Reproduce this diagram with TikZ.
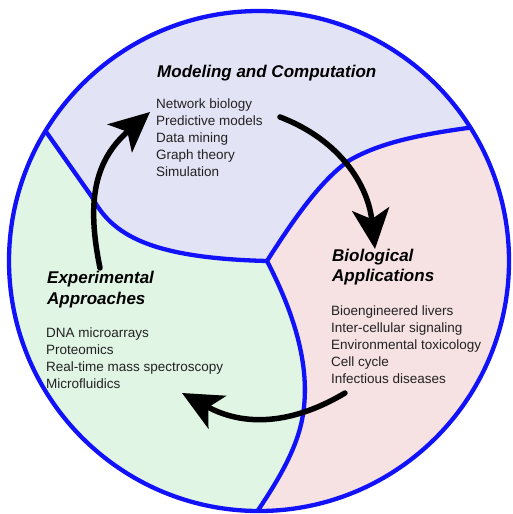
\documentclass[tikz,border=0pt]{standalone}
\usepackage{fontspec}
\setmainfont{Liberation Sans}
\usetikzlibrary{arrows.meta}
\definecolor{lav}{RGB}{227,227,246}
\definecolor{mint}{RGB}{224,245,228}
\definecolor{rose}{RGB}{246,225,227}
\definecolor{rim}{RGB}{18,18,250}
\definecolor{ink}{RGB}{34,34,34}
\tikzset{
  border/.style={draw=rim, line width=4.3pt, line cap=round, line join=round},
  cyclearrow/.style={draw=black, line width=5.5pt, line cap=round,
    -{Stealth[length=40pt,width=37pt,inset=10pt]}},
  heading/.style={anchor=base west, inner sep=0pt,
    font=\fontsize{17}{20}\selectfont\bfseries\itshape},
  item/.style={anchor=base west, inner sep=0pt, text=ink,
    font=\fontsize{13.5}{17}\selectfont},
}
\begin{document}
\begin{tikzpicture}[x=1pt,y=-1pt]
\useasboundingbox[fill=white] (0,0) rectangle (512,514);
\coordinate (O) at (259,261);
\coordinate (J) at (267,261);

% three sectors, clipped to the disc
\begin{scope}
  \clip (O) circle[radius=250pt];
  \fill[rose] (O) circle[radius=250pt];
  \fill[lav] (30,109) -- (92,197) .. controls (112,235) and (150,258) .. (J)
    .. controls (290,225) and (320,180) .. (350,160)
    .. controls (380,143) and (420,133) .. (500,124)
    -- (600,100) -- (600,-100) -- (-100,-100) -- (-100,109) -- cycle;
  \fill[mint] (30,109) -- (92,197) .. controls (112,235) and (150,258) .. (J)
    .. controls (295,315) and (312,370) .. (302,420)
    .. controls (295,455) and (272,490) .. (250,522)
    -- (250,700) -- (-100,700) -- (-100,109) -- cycle;
  % dividing lines
  \draw[border] (J) .. controls (150,258) and (112,235) .. (92,197) -- (30,109);
  \draw[border] (J) .. controls (290,225) and (320,180) .. (350,160)
    .. controls (380,143) and (420,133) .. (500,124);
  \draw[border] (J) .. controls (295,315) and (312,370) .. (302,420)
    .. controls (295,455) and (272,490) .. (250,522);
\end{scope}
\draw[draw=rim, line width=4.3pt] (O) circle[radius=250pt];

% headings
\node[heading] (hmc) at (157,77) {Modeling and Computation};
\node[heading] (hba1) at (332,261) {Biological};
\node[heading] (hba2) at (332,281) {Applications};
\node[heading] (hea1) at (47,283) {Experimental};
\node[heading] (hea2) at (47,304) {Approaches};

% item lists
\foreach \t [count=\i] in {Network biology, Predictive models, Data mining,
    Graph theory, Simulation}
  \node[item, name=mc\i] at (156,{91+17*\i}) {\t};
\foreach \t [count=\i] in {Bioengineered livers, Inter-cellular signaling,
    Environmental toxicology, Cell cycle, Infectious diseases}
  \node[item, name=ba\i] at (331,{298+17*\i}) {\t};
\foreach \t [count=\i] in {DNA microarrays, Proteomics,
    Real-time mass spectroscopy, Microfluidics}
  \node[item, name=ea\i] at (46,{320+17*\i}) {\t};

% cycle arrows
\coordinate (a1s) at (100,268);
\coordinate (a1e) at (150,112);
\coordinate (a2s) at (280,117);
\coordinate (a2e) at (375,249);
\coordinate (a3s) at (345,393);
\coordinate (a3e) at (182,393);
\draw[cyclearrow] (a1s) .. controls (86,200) and (95,160) .. (a1e);
\draw[cyclearrow] (a2s) .. controls (340,140) and (368,185) .. (a2e);
\draw[cyclearrow] (a3s) .. controls (300,420) and (250,430) .. (a3e);
\end{tikzpicture}
\end{document}
